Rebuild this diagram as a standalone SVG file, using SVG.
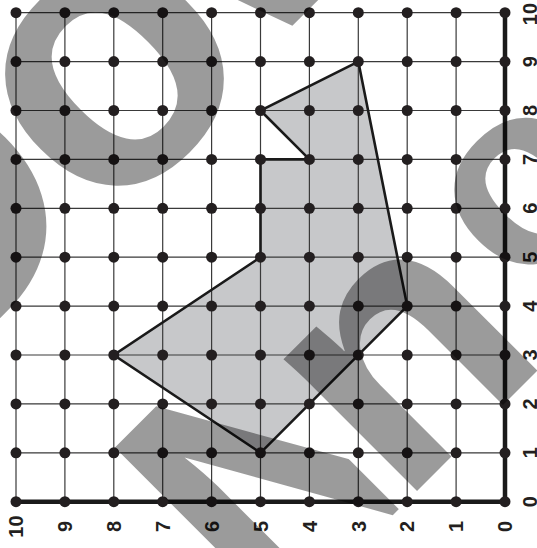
<svg xmlns="http://www.w3.org/2000/svg" width="537" height="548" viewBox="0 0 537 548">
<defs>
<style>
.grid{fill:none;stroke:#3a3a3a;stroke-width:1.2}
.axis{fill:none;stroke:#1a1a1a;stroke-width:4.5;stroke-linecap:butt}
.shape{fill:#c7c8ca;stroke:none}
.edge{fill:none;stroke:#1a1a1a;stroke-width:2.6;stroke-linejoin:miter}
.dot{fill:#231f20}
.lbl{font-family:"Liberation Sans",Arial,sans-serif;font-weight:bold;font-size:20px;fill:#231f20;text-anchor:middle}
.wm{font-family:"Liberation Sans",Arial,sans-serif;font-weight:bold;font-size:355px;fill:#000}
</style>
<clipPath id="clipN" clipPathUnits="userSpaceOnUse"><rect x="-420" y="300" width="342" height="400"/></clipPath>
</defs>
<rect width="537" height="548" fill="#fff"/>
<g id="shape-fill"><polygon class="shape" points="358.3,61.6 407.2,306.1 260.5,452.8 113.8,355 260.5,257.2 260.5,159.4 309.4,159.4 260.5,110.5"/></g>
<g id="grid">
<path class="grid" d="M16 12.7V501.7M64.9 12.7V501.7M113.8 12.7V501.7M162.7 12.7V501.7M211.6 12.7V501.7M260.5 12.7V501.7M309.4 12.7V501.7M358.3 12.7V501.7M407.2 12.7V501.7M456.1 12.7V501.7M16 12.7H505M16 61.6H505M16 110.5H505M16 159.4H505M16 208.3H505M16 257.2H505M16 306.1H505M16 355H505M16 403.9H505M16 452.8H505"/>
</g>
<g id="shape"><polygon class="edge" points="358.3,61.6 407.2,306.1 260.5,452.8 113.8,355 260.5,257.2 260.5,159.4 309.4,159.4 260.5,110.5"/></g>
<g id="axes"><path class="axis" d="M16 501.7H505V12.7"/></g>
<g id="dots">
<circle class="dot" cx="16" cy="12.7" r="5.5"/><circle class="dot" cx="64.9" cy="12.7" r="5.5"/><circle class="dot" cx="113.8" cy="12.7" r="5.5"/><circle class="dot" cx="162.7" cy="12.7" r="5.5"/><circle class="dot" cx="211.6" cy="12.7" r="5.5"/><circle class="dot" cx="260.5" cy="12.7" r="5.5"/><circle class="dot" cx="309.4" cy="12.7" r="5.5"/><circle class="dot" cx="358.3" cy="12.7" r="5.5"/><circle class="dot" cx="407.2" cy="12.7" r="5.5"/><circle class="dot" cx="456.1" cy="12.7" r="5.5"/><circle class="dot" cx="505" cy="12.7" r="5.5"/>
<circle class="dot" cx="16" cy="61.6" r="5.5"/><circle class="dot" cx="64.9" cy="61.6" r="5.5"/><circle class="dot" cx="113.8" cy="61.6" r="5.5"/><circle class="dot" cx="162.7" cy="61.6" r="5.5"/><circle class="dot" cx="211.6" cy="61.6" r="5.5"/><circle class="dot" cx="260.5" cy="61.6" r="5.5"/><circle class="dot" cx="309.4" cy="61.6" r="5.5"/><circle class="dot" cx="358.3" cy="61.6" r="5.5"/><circle class="dot" cx="407.2" cy="61.6" r="5.5"/><circle class="dot" cx="456.1" cy="61.6" r="5.5"/><circle class="dot" cx="505" cy="61.6" r="5.5"/>
<circle class="dot" cx="16" cy="110.5" r="5.5"/><circle class="dot" cx="64.9" cy="110.5" r="5.5"/><circle class="dot" cx="113.8" cy="110.5" r="5.5"/><circle class="dot" cx="162.7" cy="110.5" r="5.5"/><circle class="dot" cx="211.6" cy="110.5" r="5.5"/><circle class="dot" cx="260.5" cy="110.5" r="5.5"/><circle class="dot" cx="309.4" cy="110.5" r="5.5"/><circle class="dot" cx="358.3" cy="110.5" r="5.5"/><circle class="dot" cx="407.2" cy="110.5" r="5.5"/><circle class="dot" cx="456.1" cy="110.5" r="5.5"/><circle class="dot" cx="505" cy="110.5" r="5.5"/>
<circle class="dot" cx="16" cy="159.4" r="5.5"/><circle class="dot" cx="64.9" cy="159.4" r="5.5"/><circle class="dot" cx="113.8" cy="159.4" r="5.5"/><circle class="dot" cx="162.7" cy="159.4" r="5.5"/><circle class="dot" cx="211.6" cy="159.4" r="5.5"/><circle class="dot" cx="260.5" cy="159.4" r="5.5"/><circle class="dot" cx="309.4" cy="159.4" r="5.5"/><circle class="dot" cx="358.3" cy="159.4" r="5.5"/><circle class="dot" cx="407.2" cy="159.4" r="5.5"/><circle class="dot" cx="456.1" cy="159.4" r="5.5"/><circle class="dot" cx="505" cy="159.4" r="5.5"/>
<circle class="dot" cx="16" cy="208.3" r="5.5"/><circle class="dot" cx="64.9" cy="208.3" r="5.5"/><circle class="dot" cx="113.8" cy="208.3" r="5.5"/><circle class="dot" cx="162.7" cy="208.3" r="5.5"/><circle class="dot" cx="211.6" cy="208.3" r="5.5"/><circle class="dot" cx="260.5" cy="208.3" r="5.5"/><circle class="dot" cx="309.4" cy="208.3" r="5.5"/><circle class="dot" cx="358.3" cy="208.3" r="5.5"/><circle class="dot" cx="407.2" cy="208.3" r="5.5"/><circle class="dot" cx="456.1" cy="208.3" r="5.5"/><circle class="dot" cx="505" cy="208.3" r="5.5"/>
<circle class="dot" cx="16" cy="257.2" r="5.5"/><circle class="dot" cx="64.9" cy="257.2" r="5.5"/><circle class="dot" cx="113.8" cy="257.2" r="5.5"/><circle class="dot" cx="162.7" cy="257.2" r="5.5"/><circle class="dot" cx="211.6" cy="257.2" r="5.5"/><circle class="dot" cx="260.5" cy="257.2" r="5.5"/><circle class="dot" cx="309.4" cy="257.2" r="5.5"/><circle class="dot" cx="358.3" cy="257.2" r="5.5"/><circle class="dot" cx="407.2" cy="257.2" r="5.5"/><circle class="dot" cx="456.1" cy="257.2" r="5.5"/><circle class="dot" cx="505" cy="257.2" r="5.5"/>
<circle class="dot" cx="16" cy="306.1" r="5.5"/><circle class="dot" cx="64.9" cy="306.1" r="5.5"/><circle class="dot" cx="113.8" cy="306.1" r="5.5"/><circle class="dot" cx="162.7" cy="306.1" r="5.5"/><circle class="dot" cx="211.6" cy="306.1" r="5.5"/><circle class="dot" cx="260.5" cy="306.1" r="5.5"/><circle class="dot" cx="309.4" cy="306.1" r="5.5"/><circle class="dot" cx="358.3" cy="306.1" r="5.5"/><circle class="dot" cx="407.2" cy="306.1" r="5.5"/><circle class="dot" cx="456.1" cy="306.1" r="5.5"/><circle class="dot" cx="505" cy="306.1" r="5.5"/>
<circle class="dot" cx="16" cy="355" r="5.5"/><circle class="dot" cx="64.9" cy="355" r="5.5"/><circle class="dot" cx="113.8" cy="355" r="5.5"/><circle class="dot" cx="162.7" cy="355" r="5.5"/><circle class="dot" cx="211.6" cy="355" r="5.5"/><circle class="dot" cx="260.5" cy="355" r="5.5"/><circle class="dot" cx="309.4" cy="355" r="5.5"/><circle class="dot" cx="358.3" cy="355" r="5.5"/><circle class="dot" cx="407.2" cy="355" r="5.5"/><circle class="dot" cx="456.1" cy="355" r="5.5"/><circle class="dot" cx="505" cy="355" r="5.5"/>
<circle class="dot" cx="16" cy="403.9" r="5.5"/><circle class="dot" cx="64.9" cy="403.9" r="5.5"/><circle class="dot" cx="113.8" cy="403.9" r="5.5"/><circle class="dot" cx="162.7" cy="403.9" r="5.5"/><circle class="dot" cx="211.6" cy="403.9" r="5.5"/><circle class="dot" cx="260.5" cy="403.9" r="5.5"/><circle class="dot" cx="309.4" cy="403.9" r="5.5"/><circle class="dot" cx="358.3" cy="403.9" r="5.5"/><circle class="dot" cx="407.2" cy="403.9" r="5.5"/><circle class="dot" cx="456.1" cy="403.9" r="5.5"/><circle class="dot" cx="505" cy="403.9" r="5.5"/>
<circle class="dot" cx="16" cy="452.8" r="5.5"/><circle class="dot" cx="64.9" cy="452.8" r="5.5"/><circle class="dot" cx="113.8" cy="452.8" r="5.5"/><circle class="dot" cx="162.7" cy="452.8" r="5.5"/><circle class="dot" cx="211.6" cy="452.8" r="5.5"/><circle class="dot" cx="260.5" cy="452.8" r="5.5"/><circle class="dot" cx="309.4" cy="452.8" r="5.5"/><circle class="dot" cx="358.3" cy="452.8" r="5.5"/><circle class="dot" cx="407.2" cy="452.8" r="5.5"/><circle class="dot" cx="456.1" cy="452.8" r="5.5"/><circle class="dot" cx="505" cy="452.8" r="5.5"/>
<circle class="dot" cx="16" cy="501.7" r="5.5"/><circle class="dot" cx="64.9" cy="501.7" r="5.5"/><circle class="dot" cx="113.8" cy="501.7" r="5.5"/><circle class="dot" cx="162.7" cy="501.7" r="5.5"/><circle class="dot" cx="211.6" cy="501.7" r="5.5"/><circle class="dot" cx="260.5" cy="501.7" r="5.5"/><circle class="dot" cx="309.4" cy="501.7" r="5.5"/><circle class="dot" cx="358.3" cy="501.7" r="5.5"/><circle class="dot" cx="407.2" cy="501.7" r="5.5"/><circle class="dot" cx="456.1" cy="501.7" r="5.5"/><circle class="dot" cx="505" cy="501.7" r="5.5"/>
</g>
<g id="x-labels">
<text class="lbl" dy="0.36em" transform="translate(16,526.5) rotate(-90)">10</text>
<text class="lbl" dy="0.36em" transform="translate(64.9,526.5) rotate(-90)">9</text>
<text class="lbl" dy="0.36em" transform="translate(113.8,526.5) rotate(-90)">8</text>
<text class="lbl" dy="0.36em" transform="translate(162.7,526.5) rotate(-90)">7</text>
<text class="lbl" dy="0.36em" transform="translate(211.6,526.5) rotate(-90)">6</text>
<text class="lbl" dy="0.36em" transform="translate(260.5,526.5) rotate(-90)">5</text>
<text class="lbl" dy="0.36em" transform="translate(309.4,526.5) rotate(-90)">4</text>
<text class="lbl" dy="0.36em" transform="translate(358.3,526.5) rotate(-90)">3</text>
<text class="lbl" dy="0.36em" transform="translate(407.2,526.5) rotate(-90)">2</text>
<text class="lbl" dy="0.36em" transform="translate(456.1,526.5) rotate(-90)">1</text>
<text class="lbl" dy="0.36em" transform="translate(505,526.5) rotate(-90)">0</text>
</g>
<g id="y-labels">
<text class="lbl" dy="0.36em" transform="translate(529.5,14) rotate(-90)">10</text>
<text class="lbl" dy="0.36em" transform="translate(529.5,61.6) rotate(-90)">9</text>
<text class="lbl" dy="0.36em" transform="translate(529.5,110.5) rotate(-90)">8</text>
<text class="lbl" dy="0.36em" transform="translate(529.5,159.4) rotate(-90)">7</text>
<text class="lbl" dy="0.36em" transform="translate(529.5,208.3) rotate(-90)">6</text>
<text class="lbl" dy="0.36em" transform="translate(529.5,257.2) rotate(-90)">5</text>
<text class="lbl" dy="0.36em" transform="translate(529.5,306.1) rotate(-90)">4</text>
<text class="lbl" dy="0.36em" transform="translate(529.5,355) rotate(-90)">3</text>
<text class="lbl" dy="0.36em" transform="translate(529.5,403.9) rotate(-90)">2</text>
<text class="lbl" dy="0.36em" transform="translate(529.5,452.8) rotate(-90)">1</text>
<text class="lbl" dy="0.36em" transform="translate(529.5,501.7) rotate(-90)">0</text>
</g>
<g id="watermark" opacity="0.39" transform="rotate(-45)">
<text class="wm" x="-335" y="225">D</text>
<text class="wm" x="-92" y="238" style="font-size:390px">o</text>
<text class="wm" x="120" y="225">v</text>
<text class="wm" x="-259" y="642" clip-path="url(#clipN)">N</text>
<text class="wm" x="-77" y="642">n</text>
<text class="wm" x="158" y="577" style="font-size:260px">o</text>
</g>
</svg>
